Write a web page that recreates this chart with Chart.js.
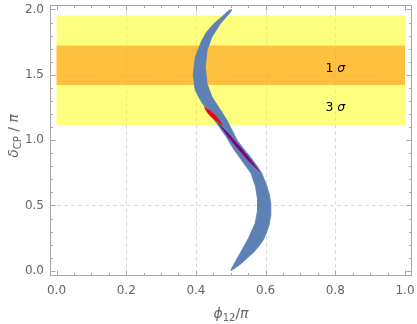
<!DOCTYPE html>
<html><head><meta charset="utf-8">
<script src="https://cdn.jsdelivr.net/npm/chart.js@4/dist/chart.umd.min.js"></script>
<style>html,body{margin:0;padding:0;background:#fff}</style>
</head><body>
<canvas id="c" width="417" height="324" style="width:417px;height:324px;display:block"></canvas>
<script>
// ---- data (x = phi12/pi, y = deltaCP/pi) ----
const xTickValues = [0, 0.2, 0.4, 0.6, 0.8, 1.0];
const yTickValues = [0, 0.5, 1.0, 1.5, 2.0];
const xGridValues = [0.2, 0.4, 0.6, 0.8];
const yGridValues = [0.5, 1.5];
const phiRange = [0, 1];
const sigma3Band = [1.112, 1.954];
const sigma1Band = [1.422, 1.725];
const bandLabels = ['1', '3'];
const bandLabelDelta = [1.545, 1.245];
const bandLabelPhi = 0.80;

// allowed region (closed outline): right edge upward, then left edge downward
const regionPhi = [0.500,0.512,0.530,0.547,0.565,0.580,0.593,0.602,0.610,0.614,0.615,0.611,0.602,0.589,0.576,0.556,0.535,0.518,0.503,0.489,0.465,0.446,0.432,0.427,0.432,0.446,0.470,0.499,0.503,
                   0.494,0.475,0.451,0.430,0.417,0.398,0.392,0.398,0.413,0.432,0.460,0.487,0.506,0.530,0.558,0.571,0.577,0.577,0.570,0.551,0.527,0.513,0.502];
const regionDelta = [0.000,0.020,0.055,0.097,0.140,0.186,0.235,0.288,0.350,0.415,0.517,0.580,0.660,0.746,0.800,0.873,0.940,1.000,1.080,1.153,1.254,1.331,1.433,1.560,1.687,1.789,1.890,1.979,2.000,
                     1.992,1.945,1.890,1.825,1.763,1.636,1.496,1.382,1.305,1.229,1.127,1.025,0.940,0.850,0.746,0.644,0.542,0.466,0.364,0.250,0.135,0.070,0.015];
const redPhi   = [0.424,0.4405,0.4545,0.4663,0.477,0.4611,0.4465,0.4341];
const redDelta = [1.249,1.2245,1.193,1.1556,1.115,1.1418,1.171,1.206];
const purplePhi   = [0.465,0.4964,0.5263,0.5552,0.583,0.5501,0.520,0.4912];
const purpleDelta = [1.127,1.0414,0.950,0.8559,0.758,0.8437,0.935,1.0291];

const X_MIN = -0.0187, X_MAX = 1.020, Y_MIN = -0.040, Y_MAX = 2.034;

function poly(xs, ys) { const p = xs.map((x, i) => ({x, y: ys[i]})); p.push({x: xs[0], y: ys[0]}); return p; }
function rect(xr, yr) { return [{x:xr[0],y:yr[0]},{x:xr[1],y:yr[0]},{x:xr[1],y:yr[1]},{x:xr[0],y:yr[1]},{x:xr[0],y:yr[0]}]; }

const shapeDs = (data, color, bw) => ({data, showLine: true, fill: 'shape', backgroundColor: color, borderColor: color,
  borderWidth: bw, pointRadius: 0, pointHoverRadius: 0, tension: 0});

const datasets = [
  shapeDs(poly(purplePhi, purpleDelta), '#800080', 0.5),
  shapeDs(poly(redPhi, redDelta), '#ff0000', 0.5),
  shapeDs(poly(regionPhi, regionDelta), '#5e81b5', 0.8),
  shapeDs(rect(phiRange, sigma1Band), 'rgba(255,128,0,0.5)', 0),
  shapeDs(rect(phiRange, sigma3Band), 'rgba(255,255,0,0.5)', 0),
];

const FRAME = '#a6a6a6';
const LABEL = '#666666';

const framePlugin = {
  id: 'frame',
  beforeDatasetsDraw(chart) {
    const {ctx, chartArea: a, scales: {x, y}} = chart;
    ctx.save();
    ctx.strokeStyle = '#dcdcdc'; ctx.lineWidth = 1; ctx.setLineDash([4, 3]);
    xGridValues.forEach(v => { const p = Math.round(x.getPixelForValue(v)) + 0.5;
      ctx.beginPath(); ctx.moveTo(p, a.top); ctx.lineTo(p, a.bottom); ctx.stroke(); });
    yGridValues.forEach(v => { const p = Math.round(y.getPixelForValue(v)) + 0.5;
      ctx.beginPath(); ctx.moveTo(a.left, p); ctx.lineTo(a.right, p); ctx.stroke(); });
    ctx.restore();
  },
  afterDraw(chart) {
    const {ctx, chartArea: a, scales: {x, y}} = chart;
    ctx.save();
    // frame
    ctx.strokeStyle = FRAME; ctx.lineWidth = 1;
    ctx.strokeRect(Math.round(a.left) + 0.5, Math.round(a.top) + 0.5, Math.round(a.right - a.left) - 1, Math.round(a.bottom - a.top) - 1);
    // ticks (inward, all sides)
    const L = Math.round(a.left) + 0.5, R = Math.round(a.right) - 0.5, T = Math.round(a.top) + 0.5, B = Math.round(a.bottom) - 0.5;
    ctx.beginPath();
    for (let i = 0; i <= 20; i++) {
      const v = i * 0.05, len = (i % 4 === 0) ? 5 : 2.5;
      const p = Math.round(x.getPixelForValue(v)) + 0.5;
      ctx.moveTo(p, B); ctx.lineTo(p, B - len);
      ctx.moveTo(p, T); ctx.lineTo(p, T + len);
    }
    for (let i = 0; i <= 20; i++) {
      const v = i * 0.1, len = (i % 5 === 0) ? 5 : 2.5;
      const p = Math.round(y.getPixelForValue(v)) + 0.5;
      ctx.moveTo(L, p); ctx.lineTo(L + len, p);
      ctx.moveTo(R, p); ctx.lineTo(R - len, p);
    }
    ctx.stroke();
    // band labels
    ctx.fillStyle = '#000'; ctx.textBaseline = 'middle';
    bandLabels.forEach((t, i) => {
      const cx = x.getPixelForValue(bandLabelPhi), cy = y.getPixelForValue(bandLabelDelta[i]);
      ctx.font = '12.5px "DejaVu Sans"'; const w1 = ctx.measureText(t + ' ').width;
      ctx.font = 'italic 12.5px "DejaVu Sans"'; const w2 = ctx.measureText('σ').width;
      let sx = cx - (w1 + w2) / 2;
      ctx.textAlign = 'left';
      ctx.font = '12.5px "DejaVu Sans"'; ctx.fillText(t + ' ', sx, cy);
      ctx.font = 'italic 12.5px "DejaVu Sans"'; ctx.fillText('σ', sx + w1, cy);
    });
    // axis titles
    ctx.fillStyle = LABEL; ctx.textBaseline = 'alphabetic'; ctx.textAlign = 'left';
    const drawParts = (parts, cx, base) => {
      let tot = 0;
      parts.forEach(p => { ctx.font = p.f; p.w = ctx.measureText(p.t).width; tot += p.w; });
      let sx = cx - tot / 2;
      parts.forEach(p => { ctx.font = p.f; ctx.fillText(p.t, sx, base + (p.dy || 0)); sx += p.w; });
    };
    drawParts([
      {t: 'ϕ', f: 'italic 14px "DejaVu Sans"'},
      {t: '12', f: '10px "DejaVu Sans"', dy: 3},
      {t: '/', f: '14px "DejaVu Sans"'},
      {t: 'π', f: 'italic 14px "DejaVu Sans"'},
    ], (a.left + a.right) / 2, 318);
    ctx.save();
    ctx.translate(18, 136); ctx.rotate(-Math.PI / 2);
    drawParts([
      {t: 'δ', f: 'italic 14px "DejaVu Sans"'},
      {t: 'CP', f: '10px "DejaVu Sans"', dy: 3},
      {t: ' / ', f: '14px "DejaVu Sans"'},
      {t: 'π', f: 'italic 14px "DejaVu Sans"'},
    ], 0, 0);
    ctx.restore();
    ctx.restore();
  }
};

new Chart(document.getElementById('c'), {
  type: 'scatter',
  data: {datasets},
  options: {
    responsive: false, animation: false, events: [],
    layout: {padding: {top: 5, right: 5, left: 0, bottom: 0}},
    plugins: {legend: {display: false}, tooltip: {enabled: false}},
    scales: {
      x: {
        type: 'linear', min: X_MIN, max: X_MAX,
        afterBuildTicks: s => { s.ticks = xTickValues.map(v => ({value: v})); },
        afterFit: s => { s.height = 48; s.paddingLeft = 0; s.paddingRight = 0; },
        grid: {display: false, drawTicks: false}, border: {display: false},
        ticks: {padding: 8, color: LABEL, font: {family: 'DejaVu Sans', size: 12}, maxRotation: 0, autoSkip: false,
          callback: v => Number(v).toFixed(1)}
      },
      y: {
        type: 'linear', min: Y_MIN, max: Y_MAX,
        afterBuildTicks: s => { s.ticks = yTickValues.map(v => ({value: v})); },
        afterFit: s => { s.width = 50; s.paddingTop = 0; s.paddingBottom = 0; },
        grid: {display: false, drawTicks: false}, border: {display: false},
        ticks: {padding: 6, color: LABEL, font: {family: 'DejaVu Sans', size: 12}, autoSkip: false,
          callback: v => Number(v).toFixed(1)}
      }
    }
  },
  plugins: [framePlugin]
});
</script>
</body></html>
